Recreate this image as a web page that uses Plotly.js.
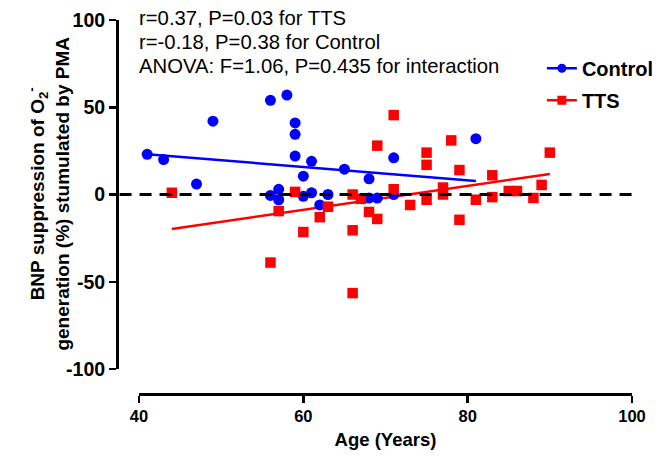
<!DOCTYPE html>
<html><head><meta charset="utf-8">
<script src="https://cdn.plot.ly/plotly-3.0.1.min.js"></script>
<style>html,body{margin:0;padding:0;background:#fff}#chart{width:656px;height:458px}</style>
</head><body><div id="chart"></div>
<script>
var controlAge = [41,43,47,49,56,58,59,59,59,61,60,65,68,57,56,57,60,61,63,62,68,69,71,71,81];
var controlVal = [23,20,6,42,54,57,41,34.5,22,19,10.5,14.5,9,3,-0.5,-3,-1,1,0,-6,-2,-2,21,0,32];
var ttsAge = [44,56,57,59,60,62,63,66,66,66,67,68,69,69,71,71,73,75,75,75,77,77,78,79,79,81,83,83,85,86,88,89,90];
var ttsVal = [1,-39,-9.5,1.5,-21.5,-13,-7,0,-20.5,-56.5,-2.5,-10,-14,28,45.5,3,-6,24,17,-3,4,0,31,14,-14.5,-3,11,-1.5,2,2,-2,5.5,24];
var xTicks = [40,60,80,100];
var yTicks = [-100,-50,0,50,100];
var yTickText = ['-100','-50','0','50','100'];
var notes = ["r=0.37, P=0.03 for TTS","r=-0.18, P=0.38 for Control","ANOVA: F=1.06, P=0.435 for interaction"];
var yTitle = '<b>BNP suppression of O<sub>2</sub><sup>-</sup></b><br><b>generation (%) stumulated by PMA</b>';

function fit(xs, ys){
  var n=xs.length, mx=0,my=0;
  for(var i=0;i<n;i++){mx+=xs[i];my+=ys[i];}
  mx/=n; my/=n;
  var sxy=0,sxx=0;
  for(var i=0;i<n;i++){sxy+=(xs[i]-mx)*(ys[i]-my);sxx+=(xs[i]-mx)*(xs[i]-mx);}
  var b=sxy/sxx, a=my-b*mx;
  var x0=Math.min.apply(null,xs), x1=Math.max.apply(null,xs);
  return {x:[x0,x1], y:[a+b*x0, a+b*x1]};
}
var cf = fit(controlAge, controlVal), tf = fit(ttsAge, ttsVal);

var blue='#0000FF', red='#FF0000';
var traces = [
  {x:cf.x, y:cf.y, mode:'lines', line:{color:blue,width:2.5}, showlegend:false, hoverinfo:'skip'},
  {x:tf.x, y:tf.y, mode:'lines', line:{color:red,width:2.5}, showlegend:false, hoverinfo:'skip'},
  {x:controlAge, y:controlVal, mode:'markers', marker:{color:blue,size:11,symbol:'circle'}, showlegend:false},
  {x:ttsAge, y:ttsVal, mode:'markers', marker:{color:red,size:10.5,symbol:'square'}, showlegend:false},
  {x:[null], y:[null], mode:'lines+markers', name:'Control', legendgroup:'c', line:{color:blue,width:2.5}, marker:{color:blue,size:9,symbol:'circle'}},
  {x:[null], y:[null], mode:'lines+markers', name:'TTS', legendgroup:'t', line:{color:red,width:2.5}, marker:{color:red,size:9,symbol:'square'}}
];

var annots = notes.map(function(t,i){
  return {text:t, xref:'paper', yref:'paper', x:0.039, y:1.005 - i*0.0642, xanchor:'left', yanchor:'middle', showarrow:false,
    font:{family:'Liberation Sans, Arial, sans-serif', size:20.3, color:'#000'}};
});
annots.push({text:yTitle, xref:'paper', yref:'paper', x:-0.132, y:0.536, xanchor:'center', yanchor:'middle', textangle:-90, showarrow:false,
  font:{family:'Liberation Sans, Arial, sans-serif', size:19, color:'#000'}});

var layout = {
  width:656, height:458,
  margin:{l:117, r:24, t:20, b:64, autoexpand:false},
  paper_bgcolor:'#fff', plot_bgcolor:'#fff',
  font:{family:'Liberation Sans, Arial, sans-serif', color:'#000'},
  xaxis:{range:[40,100], domain:[0.0427,1], anchor:'free', position:0, tickvals:xTicks,
    showgrid:false, zeroline:false, showline:true, linecolor:'#000', linewidth:2.5,
    ticks:'outside', ticklen:7, tickwidth:2.5, tickcolor:'#000',
    tickfont:{size:16.5, weight:'bold'},
    title:{text:'<b>Age (Years)</b>', font:{size:18.5}, standoff:8}},
  yaxis:{range:[-100,100], domain:[0.0668,1], anchor:'free', position:0, tickvals:yTicks, ticktext:yTickText,
    showgrid:false, zeroline:false, showline:true, linecolor:'#000', linewidth:2.5,
    ticks:'outside', ticklen:7, tickwidth:2.5, tickcolor:'#000',
    tickfont:{size:19.5, weight:'bold'}},
  shapes:[{type:'line', xref:'paper', yref:'y', x0:0.005, x1:1, y0:0, y1:0, line:{color:'#000', width:3, dash:'12px,8px'}}],
  annotations: annots,
  legend:{x:0.825, y:0.923, xanchor:'left', yanchor:'top', bgcolor:'rgba(0,0,0,0)', traceorder:'grouped', tracegroupgap:3,
    font:{size:20, weight:'bold'}},
  showlegend:true
};
Plotly.newPlot('chart', traces, layout, {staticPlot:true, displayModeBar:false});
</script></body></html>
